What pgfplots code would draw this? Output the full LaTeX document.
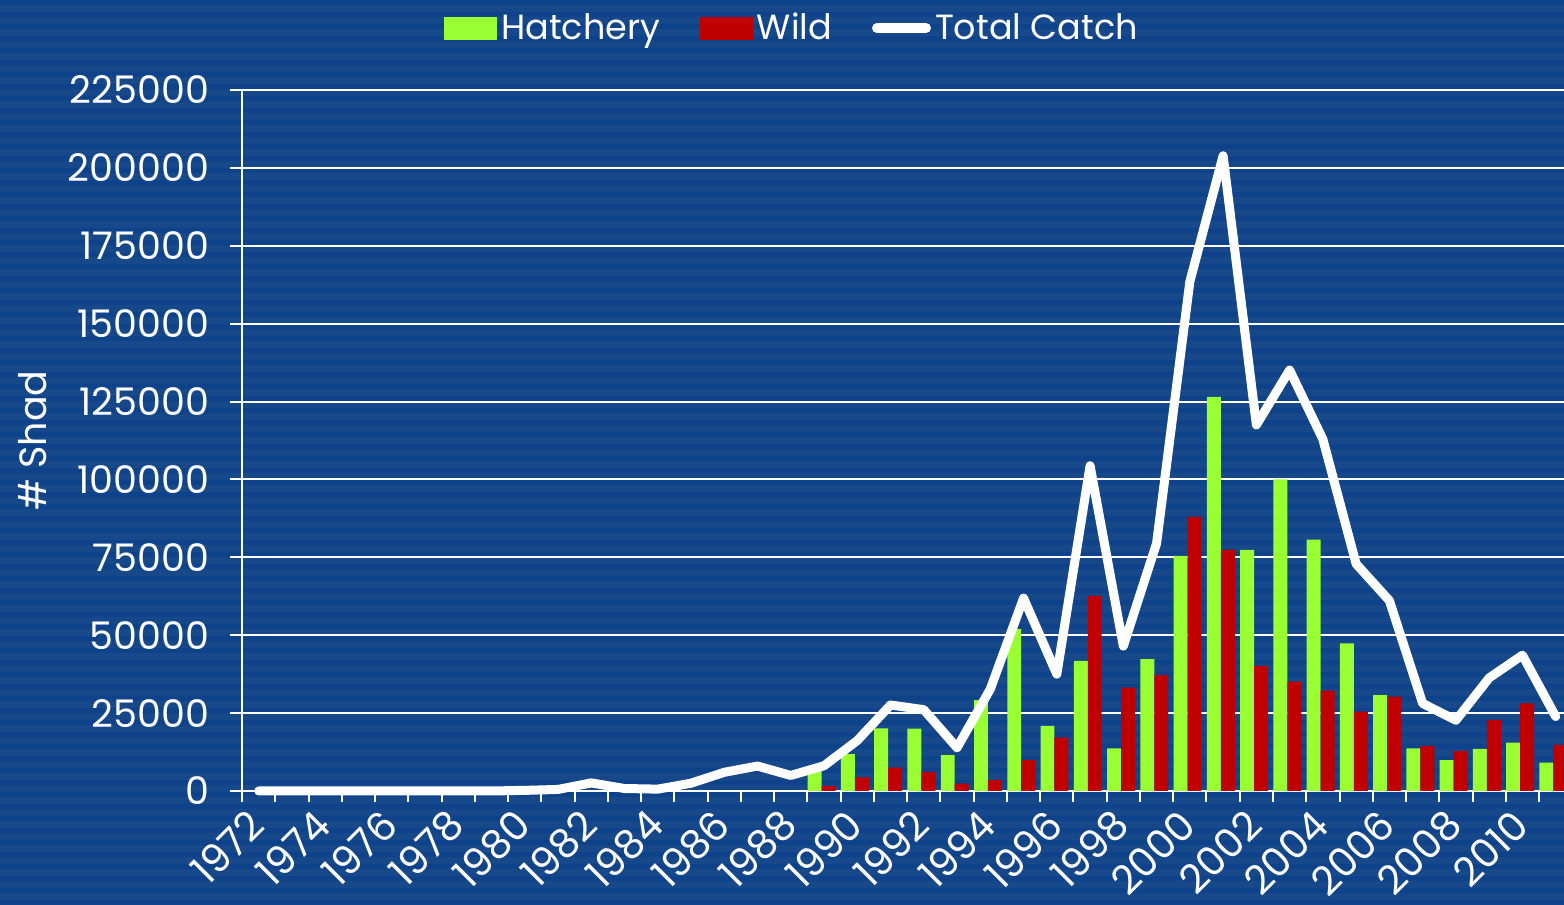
\documentclass[border=0pt]{standalone}
\usepackage{fontspec}
\setmainfont{Poppins}
\usepackage{pgfplots}
\usepackage{pgfplotstable}
\pgfplotsset{compat=1.18}

\definecolor{bgblue}{HTML}{17488A}
\definecolor{bgdark}{HTML}{0E428A}
\definecolor{hatch}{HTML}{99FF33}
\definecolor{wild}{HTML}{C00000}

% index 0 = 1972
\pgfplotstableread{
x hatch wild
17 6500 1600
18 11800 4400
19 20100 7500
20 20000 6100
21 11500 2400
22 29200 3500
23 52000 9900
24 20900 17100
25 41800 62600
26 13700 33200
27 42300 37200
28 75500 88000
29 126500 77400
30 77400 40100
31 100000 35100
32 80700 32200
33 47400 25500
34 30800 30300
35 13700 14400
36 9900 12800
37 13500 22800
38 15500 28100
39 9100 14800
}\barsdata

\pgfplotstableread{
x total
0 0
1 0
2 0
3 0
4 0
5 0
6 0
7 0
8 200
9 500
10 2600
11 800
12 600
13 2500
14 6000
15 8000
16 5000
17 8100
18 16200
19 27600
20 26100
21 13900
22 32700
23 61900
24 37500
25 104400
26 46500
27 79500
28 163500
29 203900
30 117500
31 135100
32 112900
33 72900
34 61100
35 28100
36 22700
37 36300
38 43600
39 23900
}\totaldata

\begin{document}
\begin{tikzpicture}
\useasboundingbox (0pt,0pt) rectangle (782pt,452.5pt);
\fill[bgblue] (0pt,0pt) rectangle (782pt,452.5pt);
\foreach \k in {0,...,76} {
  \fill[bgdark] (0pt,\k*6pt) rectangle (782pt,\k*6pt+2.5pt);
}
\begin{axis}[
  at={(121pt,57pt)}, anchor=south west,
  scale only axis,
  width=661pt, height=350.5pt,
  xmin=-0.5, xmax=39.25,
  ymin=0, ymax=225000,
  clip=false,
  axis lines=left,
  axis line style={white, line width=1pt, -},
  ytick={0,25000,...,225000},
  scaled y ticks=false,
  yticklabel style={/pgf/number format/fixed, /pgf/number format/precision=0,
    /pgf/number format/1000 sep={}, /pgf/number format/assume math mode=true},
  ymajorgrids,
  major grid style={white, line width=1pt},
  tick align=outside,
  major tick length=6pt,
  minor tick length=5.5pt,
  ytick style={white, line width=1pt},
  xtick={0,2,...,38},
  xticklabels={1972,1974,1976,1978,1980,1982,1984,1986,1988,1990,1992,1994,1996,1998,2000,2002,2004,2006,2008,2010},
  major x tick style={draw=none},
  minor xtick={-0.5,0.5,...,39},
  minor x tick style={white, line width=1pt},
  tick label style={text=white, font=\fontsize{19}{22}\selectfont},
  y tick label style={xshift=-7pt},
  x tick label style={font=\fontsize{20}{23}\selectfont, xshift=1.5pt, yshift=-5pt, rotate=45, anchor=east},
  ylabel={\# Shad},
  every axis y label/.style={at={(rel axis cs:0,0.5)}, xshift=-104.5pt, rotate=90, anchor=center, text=white, font=\fontsize{19}{22}\selectfont},
  legend style={at={(0.4168,1.0884)}, anchor=center, draw=none, fill=none,
    text=white, font=\fontsize{17.5}{21}\selectfont, inner sep=0pt,
    legend columns=3,
    /tikz/every even column/.append style={column sep=18pt},
    nodes={inner xsep=2pt, inner ysep=1pt}},
  legend cell align=left,
]
\addplot[ybar, bar width=0.42, bar shift=-0.28, fill=hatch, draw=none,
  legend image code/.code={\fill[hatch] (0pt,-5.75pt) rectangle (26.5pt,5.75pt);}]
  table[x=x, y=hatch] {\barsdata};
\addplot[ybar, bar width=0.42, bar shift=0.14, fill=wild, draw=none,
  legend image code/.code={\fill[wild] (0pt,-5.75pt) rectangle (26.5pt,5.75pt);}]
  table[x=x, y=wild] {\barsdata};
\addplot[white, line width=4.5pt, line join=round, line cap=round, mark=none,
  legend image code/.code={\draw[white, line width=5pt, line cap=round] (2.5pt,0pt) -- (27pt,0pt);}]
  table[x=x, y=total] {\totaldata};
\legend{Hatchery,Wild,Total Catch}
\end{axis}
\end{tikzpicture}
\end{document}
